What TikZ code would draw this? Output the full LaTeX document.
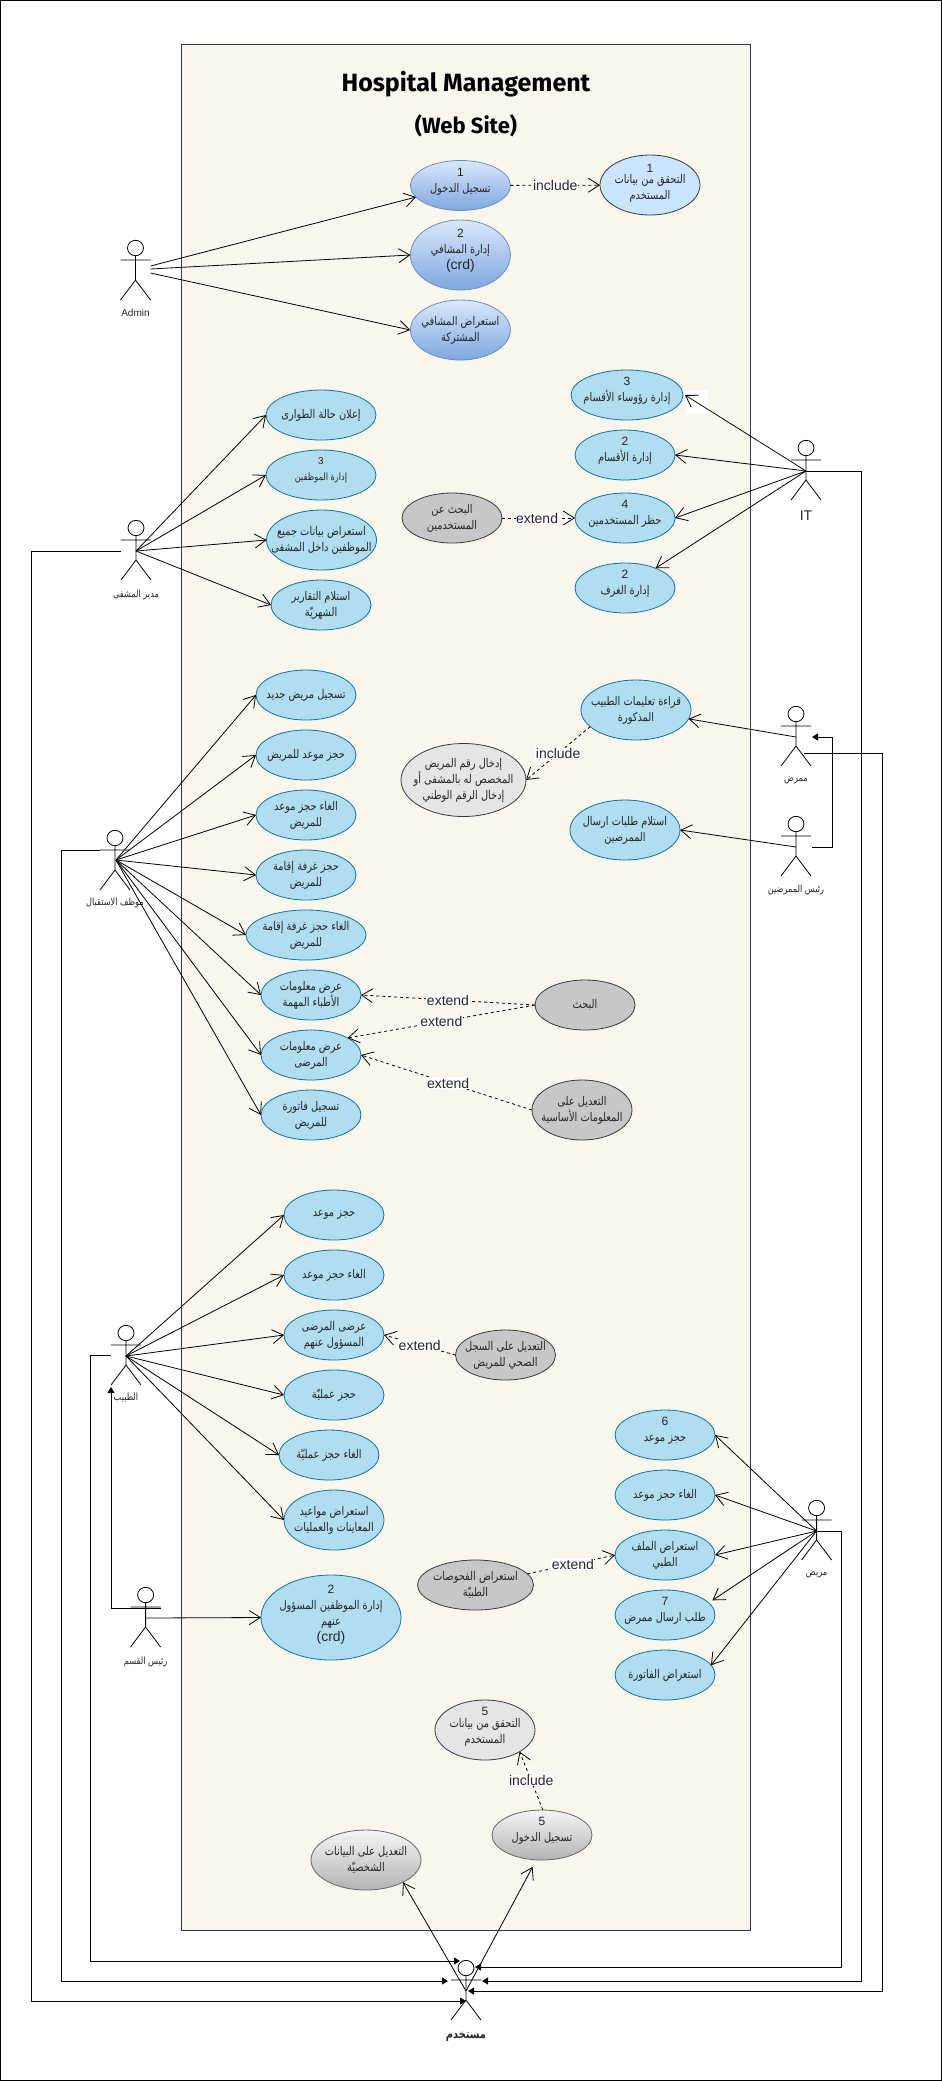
\documentclass[tikz,border=0pt]{standalone}
\usepackage{fontspec}
\usetikzlibrary{arrows.meta,shapes.geometric}
\setmainfont{Liberation Sans}
\newfontfamily\arabicfont[Script=Arabic,FakeStretch=0.82]{DejaVu Sans}
\newfontfamily\titlefont{Fira Sans}
\TeXXeTstate=1
\newcommand{\ar}[1]{{\arabicfont\beginR #1\endR}}
\definecolor{framefill}{HTML}{F9F7ED}
\definecolor{framedraw}{HTML}{36393D}
\definecolor{ucblue}{HTML}{B1DDF0}
\definecolor{ucbluedraw}{HTML}{10739E}
\tikzset{
  x=1pt,y=-1pt,
  uc/.style={ellipse,inner sep=0pt,outer sep=0pt,line width=.8pt},
  ucb/.style={uc,fill=ucblue,draw=ucbluedraw},
  ucg/.style={uc,fill=black!22,draw=framedraw},
  ucl/.style={uc,fill=black!10,draw=framedraw},
  ucc/.style={uc,fill={rgb,255:red,204;green,229;blue,255},draw=framedraw},
  ucgrad/.style={uc,top color={rgb,255:red,218;green,232;blue,252},bottom color={rgb,255:red,126;green,166;blue,224},draw={rgb,255:red,108;green,142;blue,191}},
  ucgray/.style={uc,top color={rgb,255:red,245;green,245;blue,245},bottom color={rgb,255:red,179;green,179;blue,179},draw={rgb,255:red,102;green,102;blue,102}},
  uctext/.style={align=center,inner sep=0pt,text=black!85,font=\fontsize{12}{16}\selectfont},
  lab/.style={fill=white,inner sep=0.5pt,font=\fontsize{14}{15}\selectfont,text=black!85},
  assoc/.style={-{Straight Barb[length=11pt,width=14pt,line width=.8pt]},line width=.8pt,black},
  dep/.style={assoc,dash pattern=on 3pt off 3pt},
  thinflow/.style={assoc,dash pattern=on 2pt off .4pt},
  flow/.style={-{Triangle[length=6pt,width=7pt]},line width=.9pt,black,rounded corners=0pt},
  stick/.style={line width=.8pt,black},
  actlab/.style={inner sep=0pt,text=black!85,font=\fontsize{10}{12}\selectfont},
}
% \actor{name}{x}{head y}{label}{label y}
\newcommand{\actor}[5]{%
  \draw[stick,fill=white] (#2,#3) ellipse [x radius=8,y radius=7.7];
  \draw[stick] (#2,#3+7.7) -- (#2,#3+32) -- (#2-15,#3+52) (#2,#3+32) -- (#2+15,#3+52) (#2-15,#3+12) -- (#2+15,#3+12);
  \coordinate (#1) at (#2,#3+23);
  \node[actlab] (#1-lab) at (#2,#5) {#4};
}
% \ucase[label options]{name}{style}{x}{y}{rx}{ry}{text}
\newcommand{\ucase}[8][]{%
  \node[#3,minimum width=2*#6,minimum height=2*#7,label={[uctext,#1]center:{#8}}] (#2) at (#4,#5) {};
}
\begin{document}
\begin{tikzpicture}
\useasboundingbox (0,0) rectangle (942,2081);
\draw[line width=1pt,black,fill=white] (0.5,0.5) rectangle (941.5,2080.5);
\node[draw=framedraw,fill=framefill,line width=.9pt,minimum width=569pt,minimum height=1886pt,inner sep=0pt,outer sep=0pt] (frame) at (466,987) {};
\node[font=\titlefont\bfseries\fontsize{25}{28}\selectfont] (t1) at (466,84) {Hospital Management};
\node[font=\titlefont\bfseries\fontsize{22}{24}\selectfont] (t2) at (466,126) {(Web Site)};

% actors
\actor{adm}{135.5}{248}{Admin}{313}
\actor{mgr}{136}{528}{\ar{مدير المشفى}}{595}
\actor{rec}{115}{838}{\ar{موظف الاستقبال}}{903}
\actor{doc}{126}{1333}{\ar{الطبيب}}{1398}
\actor{dep}{145.6}{1595}{\ar{رئيس القسم}}{1662}
\actor{it}{806}{448}{\fontsize{14}{15}\selectfont IT}{516}
\actor{nur}{796}{714}{\ar{ممرض}}{780}
\actor{chn}{796}{824}{\ar{رئيس الممرضين}}{890}
\actor{pat}{816.6}{1508}{\ar{مريض}}{1574}
\actor{usr}{466}{1968}{\bfseries\fontsize{12}{14}\selectfont\ar{مستخدم}}{2037}

% blank label box next to the IT arrow
\node[fill=white,inner sep=0pt,minimum width=22pt,minimum height=24pt] (blank) at (696.5,401.5) {};

% use cases
\ucase[yshift=4pt]{e1}{ucgrad}{460.4}{185.5}{50}{25}{1\\\ar{تسجيل الدخول}}
\ucase[yshift=4pt]{e2}{ucgrad}{460.4}{255}{50}{35}{2\\\ar{إدارة المشافي}\\{\fontsize{14}{16}\selectfont (crd)}}
\ucase{e3}{ucgrad}{460.4}{330}{50}{30}{\ar{استعراض المشافي}\\\ar{المشتركة}}
\ucase[yshift=2pt]{e4}{ucc}{650}{185}{50}{30}{1\\[-5pt]\ar{التحقق من بيانات}\\\ar{المستخدم}}
\ucase[yshift=4pt]{e5}{ucb}{627}{395}{56}{25}{3\\\ar{إدارة رؤوساء الأقسام}}
\ucase{e6}{ucb}{321}{415}{55}{25}{\ar{إعلان حالة الطوارى}}
\ucase[font=\fontsize{10}{16}\selectfont,yshift=5pt]{e7}{ucb}{321}{475}{55}{25}{3\\\ar{إدارة الموظفين}}
\ucase{e8}{ucb}{321.5}{540}{55}{30}{\ar{استعراض بيانات جميع}\\\ar{الموظفين داخل المشفى}}
\ucase{e9}{ucb}{321}{605}{50}{25}{\ar{استلام التقارير}\\\ar{الشهريّة}}
\ucase[yshift=4pt]{e10}{ucb}{625}{455}{50}{25}{2\\\ar{إدارة الأقسام}}
\ucase[yshift=4pt]{e11}{ucb}{625}{518}{50}{25}{4\\\ar{حظر المستخدمين}}
\ucase[yshift=4pt]{e12}{ucb}{625}{588}{50}{25}{2\\\ar{إدارة الغرف}}
\ucase{e13}{ucg}{452}{518}{50}{25}{\ar{البحث عن}\\\ar{المستخدمين}}
\ucase{e14}{ucb}{636}{710}{55}{30}{\ar{قراءة تعليمات الطبيب}\\\ar{المذكورة}}
\ucase{e15}{ucb}{625}{830}{55}{30}{\ar{استلام طلبات ارسال}\\\ar{الممرضين}}
\ucase{e16}{ucl}{463.5}{780}{62.5}{36.5}{\ar{إدخال رقم المريض}\\\ar{المخصص له بالمشفى أو}\\\ar{إدخال الرقم الوطني}}
\ucase{e17}{ucb}{306}{695}{50}{25}{\ar{تسجيل مريض جديد}}
\ucase{e18}{ucb}{306}{755}{50}{25}{\ar{حجز موعد للمريض}}
\ucase{e19}{ucb}{306}{815}{50}{25}{\ar{الغاء حجز موعد}\\\ar{للمريض}}
\ucase{e20}{ucb}{306}{875}{50}{25}{\ar{حجز غرفة إقامة}\\\ar{للمريض}}
\ucase{e21}{ucb}{306}{935}{60}{25}{\ar{الغاء حجز غرفة إقامة}\\\ar{للمريض}}
\ucase{e22}{ucb}{311}{995}{50}{25}{\ar{عرض معلومات}\\\ar{الأطباء المهمة}}
\ucase{e23}{ucb}{311}{1055}{50}{25}{\ar{عرض معلومات}\\\ar{المرضى}}
\ucase{e24}{ucb}{311}{1115}{50}{25}{\ar{تسجيل فاتورة}\\\ar{للمريض}}
\ucase{e25}{ucg}{585}{1005}{50}{25}{\ar{البحث}}
\ucase{e26}{ucg}{582}{1110}{50}{30}{\ar{التعديل على}\\\ar{المعلومات الأساسية}}
\ucase{e27}{ucb}{334}{1215}{50}{25}{\ar{حجز موعد}}
\ucase{e28}{ucb}{334}{1275}{50}{25}{\ar{الغاء حجز موعد}}
\ucase{e29}{ucb}{334}{1335}{50}{25}{\ar{عرضى المرضى}\\\ar{المسؤول عنهم}}
\ucase{e30}{ucb}{334}{1395}{50}{25}{\ar{حجز عمليّة}}
\ucase{e31}{ucb}{329}{1455}{50}{25}{\ar{الغاء حجز عمليّة}}
\ucase{e32}{ucb}{334}{1520}{50}{30}{\ar{استعراض مواعيد}\\\ar{المعاينات والعمليات}}
\ucase[yshift=3pt]{e33}{ucb}{331}{1617.5}{70}{42.5}{2\\\ar{إدارة الموظفين المسؤول}\\\ar{عنهم}\\{\fontsize{14}{16}\selectfont (crd)}}
\ucase{e34}{ucg}{505.5}{1355}{50}{25}{\ar{التعديل على السجل}\\\ar{الصحي للمريض}}
\ucase{e35}{ucg}{475.5}{1585}{58}{25}{\ar{استعراض الفحوصات}\\\ar{الطبيّة}}
\ucase[yshift=4pt]{e36}{ucb}{665}{1435}{50}{25}{6\\\ar{حجز موعد}}
\ucase{e37}{ucb}{665}{1495}{50}{25}{\ar{الغاء حجز موعد}}
\ucase{e38}{ucb}{665}{1555}{50}{25}{\ar{استعراض الملف}\\\ar{الطبي}}
\ucase[yshift=4pt]{e39}{ucb}{665}{1615}{50}{25}{7\\\ar{طلب ارسال ممرض}}
\ucase{e40}{ucb}{665}{1675}{50}{25}{\ar{استعراض الفاتورة}}
\ucase[yshift=3pt]{e41}{ucl}{485}{1730}{50}{30}{5\\[-4pt]\ar{التحقق من بيانات}\\\ar{المستخدم}}
\ucase[yshift=4pt]{e42}{ucgray}{542}{1835}{50}{25}{5\\\ar{تسجيل الدخول}}
\ucase{e43}{ucgray}{366}{1860}{55}{30}{\ar{التعديل على البيانات}\\\ar{الشخصيّة}}

% associations
\draw[assoc] ([shift={(15,-5)}]adm) -- (e1);
\draw[assoc] ([shift={(15,-2)}]adm) -- (e2.west);
\draw[assoc] ([shift={(15,2)}]adm) -- (e3.west);
\foreach \t in {e6,e7,e8,e9} \draw[assoc] (mgr) -- (\t.west);
\foreach \t in {e17,e18,e19,e20,e21,e22,e23,e24} \draw[assoc] ([shift={(1,-1)}]rec) -- (\t.west);
\foreach \t in {e27,e28,e29,e30,e31,e32} \draw[assoc] (doc) -- (\t.west);
\draw[assoc] (dep) -- (e33.west);
\draw[thinflow] (it) -- ([xshift=2pt]e5.east);
\foreach \t in {e10,e11} \draw[assoc] (it) -- (\t.east);
\draw[assoc] (it) -- (e12);
\draw[assoc] (nur) -- (e14);
\draw[assoc] (chn) -- (e15.east);
\foreach \t in {e36,e37,e38} \draw[assoc] (pat) -- (\t.east);
\draw[assoc] (pat) -- ([xshift=7pt]e39.20);
\draw[assoc] (pat) -- (e40.12);
\draw[assoc] (usr) -- ([shift={(-5,7)}]e42.-100);
\draw[assoc] (usr) -- (e43.-31);

% include / extend
\draw[dep] (e1) -- node[lab,pos=.5] (l1) {include} (e4);
\draw[dep] (e13) -- node[lab,pos=.48] (l2) {extend} (e11);
\draw[dep] (e14.200) -- node[lab,pos=.5] (l3) {include} (e16.east);
\draw[dep] (e25.west) -- node[lab,pos=.5] (l4) {extend} (e22.east);
\draw[dep] (e25.west) -- node[lab,pos=.5] (l5) {extend} (e23.25);
\draw[dep] (e26.west) -- node[lab,pos=.49] (l6) {extend} (e23.east);
\draw[dep] (e34.west) -- node[lab,pos=.5] (l7) {extend} (e29.east);
\draw[dep] (e35) -- node[lab,pos=.52] (l8) {extend} (e38.west);
\draw[dep] (e42.88) -- node[lab,pos=.5] (l9) {include} (e41.-32);

% links to the user actor
\draw[flow] ([xshift=-15pt]mgr) -- ++(-90,0) |- ([shift={(0,10)}]usr);
\draw[flow] ([shift={(-15,-11)}]rec) -- ++(-39,0) |- ([shift={(-18,-10)}]usr);
\draw[flow] ([shift={(-15,-1)}]doc) -- ++(-21,0) |- ([shift={(-6,-30)}]usr);
\draw[flow] (it) -- ++(55,0) |- ([shift={(16,-10)}]usr);
\draw[flow] ([shift={(8,16)}]nur) -- ++(78,0) |- ([shift={(2,0)}]usr);
\draw[flow] (pat) -- ++(24.5,0) |- ([shift={(9,-24)}]usr);
\draw[flow] ([xshift=16pt]chn) -- ++(20,0) |- ([xshift=16pt]nur);
\draw[flow] ([shift={(15,-10)}]dep) -| ([shift={(-15,31)}]doc);
\end{tikzpicture}
\end{document}
